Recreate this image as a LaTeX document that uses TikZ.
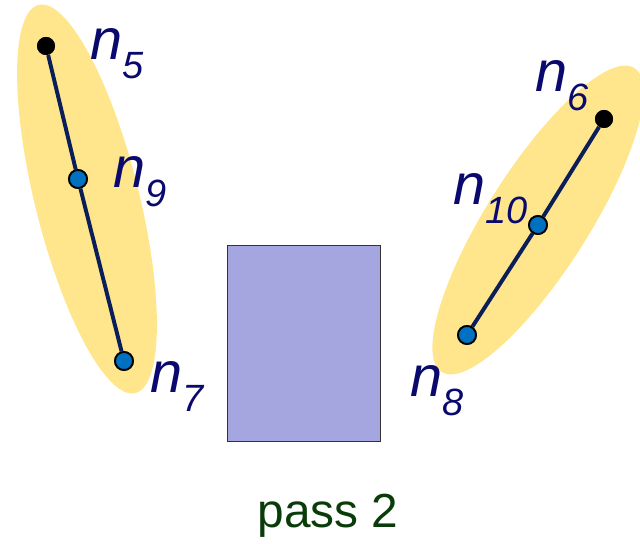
\documentclass[tikz,border=0pt]{standalone}
\usepackage{fontspec}
\setmainfont{Liberation Sans}
\definecolor{hull}{RGB}{255,230,140}
\definecolor{edge}{RGB}{10,30,90}
\definecolor{inner}{RGB}{0,112,192}
\definecolor{lab}{RGB}{10,10,110}
\definecolor{box}{RGB}{165,165,224}
\definecolor{caption}{RGB}{10,60,10}
\newcommand{\nlab}[1]{{\fontsize{41}{41}\selectfont\itshape n\raisebox{-0.32em}{\fontsize{27}{27}\selectfont #1}}}
\tikzset{
  enddot/.style = {circle, fill=black, inner sep=0pt, minimum size=0.45cm},
  middot/.style = {circle, fill=inner, draw=black, line width=1.3pt, inner sep=0pt, minimum size=0.45cm},
  nname/.style = {anchor=base west, inner sep=0pt, text=lab}
}
\begin{document}
\begin{tikzpicture} [x = 0.025cm, y = -0.025cm]
	\useasboundingbox (0,0) rectangle (640,544);
	\fill [hull, rotate around = {14:(87,199)}] (87,199) ellipse (52 and 200);
	\fill [hull, rotate around = {57.6:(538,220)}] (538,220) ellipse (180 and 51);
	\node [enddot] (n5) at (46,46) {};
	\node [middot] (n9) at (78,179) {};
	\node [middot] (n7) at (124,361) {};
	\node [enddot] (n6) at (604,119) {};
	\node [middot] (n10) at (538,225) {};
	\node [middot] (n8) at (467,335) {};
	\draw [edge, line width = 2.8pt] (n5) -- (n9) -- (n7);
	\draw [edge, line width = 2.8pt] (n6) -- (n10) -- (n8);
	\node [enddot] at (n5) {};
	\node [middot] at (n9) {};
	\node [middot] at (n7) {};
	\node [enddot] at (n6) {};
	\node [middot] at (n10) {};
	\node [middot] at (n8) {};
	\node [nname] (l5) at (90,60) {\nlab{5}};
	\node [nname] (l9) at (113,188) {\nlab{9}};
	\node [nname] (l7) at (150,393) {\nlab{7}};
	\node [nname] (l6) at (535,92) {\nlab{6}};
	\node [nname] (l10) at (453,205) {\nlab{10}};
	\node [nname] (l8) at (410,397) {\nlab{8}};
	\draw [fill = box, draw = black!80, line width = 0.5pt] (227,245) rectangle (380,441);
	\node [text = caption, font = \fontsize{34}{34}\selectfont] (pass) at (328,516) {pass 2};
\end{tikzpicture}
\end{document}
